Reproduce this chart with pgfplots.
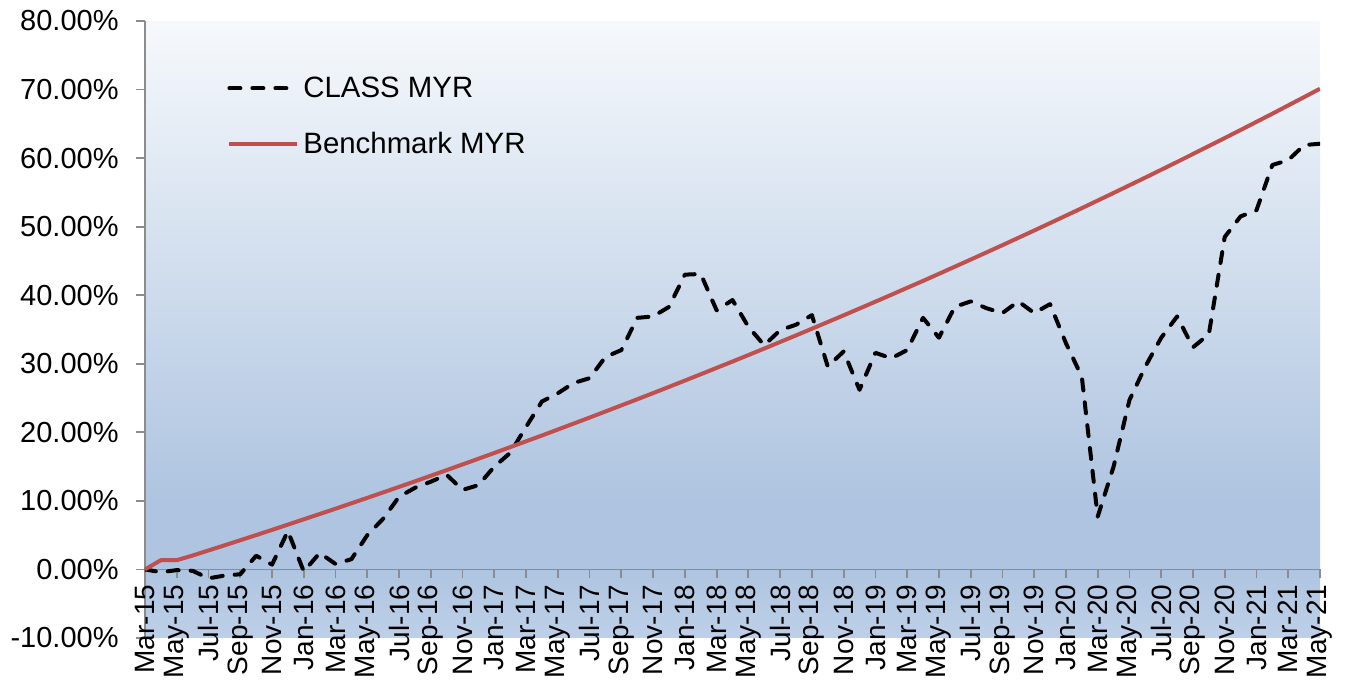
\documentclass[border=0pt]{standalone}
\usepackage{fontspec}
\setmainfont{Liberation Sans}
\usepackage{pgfplots}
\pgfplotsset{compat=1.18}
\definecolor{bench}{HTML}{C0504D}
\definecolor{axgray}{HTML}{8C8C8C}
\definecolor{bgtop}{HTML}{F6F9FC}
\definecolor{bgmid}{HTML}{CCDAEB}
\definecolor{bgdark}{HTML}{AEC4E0}
\definecolor{bgbot}{HTML}{BED0E8}
\pgfdeclareverticalshading{plotbg}{100bp}{color(0bp)=(bgbot); color(25bp)=(bgbot); color(30.6bp)=(bgdark); color(36bp)=(bgdark); color(75bp)=(bgtop); color(100bp)=(bgtop)}
\begin{document}
\begin{tikzpicture}
\path[use as bounding box] (0,0) rectangle (675.5pt,343pt);
\begin{axis}[
  at={(72.5pt,24pt)}, anchor=south west,
  scale only axis, width=587.5pt, height=308.5pt,
  xmin=0, xmax=74, ymin=-10, ymax=80,
  axis x line=middle, axis y line=left,
  hide obscured x ticks=false, hide obscured y ticks=false,
  axis line style={-, draw=axgray, line width=0.9pt},
  axis background/.style={shade, shading=plotbg},
  every tick/.style={draw=axgray, line width=0.9pt},
  major tick length=4.5pt,
  xtick align=outside, ytick align=outside,
  xtick={0,2,...,74},
  xticklabels={Mar-15,May-15,Jul-15,Sep-15,Nov-15,Jan-16,Mar-16,May-16,Jul-16,Sep-16,Nov-16,Jan-17,Mar-17,May-17,Jul-17,Sep-17,Nov-17,Jan-18,Mar-18,May-18,Jul-18,Sep-18,Nov-18,Jan-19,Mar-19,May-19,Jul-19,Sep-19,Nov-19,Jan-20,Mar-20,May-20,Jul-20,Sep-20,Nov-20,Jan-21,Mar-21,May-21},
  xticklabel style={rotate=90, anchor=east, font=\fontsize{14}{15}\selectfont, inner sep=3pt},
  ytick={-10,0,10,20,30,40,50,60,70,80},
  yticklabels={-10.00\%,0.00\%,10.00\%,20.00\%,30.00\%,40.00\%,50.00\%,60.00\%,70.00\%,80.00\%},
  yticklabel style={font=\fontsize{14.5}{16}\selectfont, inner sep=2pt, xshift=-6.5pt},
  /pgf/number format/assume math mode=true,
  legend style={at={(0.0698,0.917)}, anchor=north west, draw=none, fill=none, inner sep=0pt,
    row sep=12pt, font=\fontsize{14.7}{16}\selectfont},
  legend cell align=left,
  legend image code/.code={\draw[#1] (0pt,0pt) -- (34pt,0pt);},
]
\addplot[black, line width=2pt, dash pattern=on 5.5pt off 6pt, line cap=round, line join=round] coordinates {
(0,0) (1,-0.4) (2,-0.1) (3,-0.2) (4,-1.3) (5,-0.9) (6,-0.7) (7,2.0) (8,0.7) (9,5.6)
(10,-0.3) (11,2.4) (12,0.8) (13,1.5) (14,5.0) (15,7.4) (16,10.6) (17,11.9) (18,12.8) (19,13.8)
(20,11.6) (21,12.3) (22,15.0) (23,17.0) (24,20.8) (25,24.5) (26,25.7) (27,27.2) (28,27.9) (29,31.0)
(30,32.0) (31,36.7) (32,36.9) (33,38.3) (34,43.0) (35,43.1) (36,37.8) (37,39.3) (38,35.4) (39,32.7)
(40,34.9) (41,35.7) (42,37.1) (43,29.6) (44,31.8) (45,26.2) (46,31.6) (47,30.8) (48,32.0) (49,36.7)
(50,33.8) (51,38.3) (52,39.1) (53,38.1) (54,37.4) (55,39.1) (56,37.4) (57,38.7) (58,33.0) (59,28.1)
(60,7.7) (61,15.0) (62,24.7) (63,29.6) (64,33.8) (65,36.9) (66,32.4) (67,34.3) (68,48.5) (69,51.5)
(70,52.4) (71,59.0) (72,59.7) (73,61.9) (74,62.1)
};
\addlegendentry{CLASS MYR}
\addplot[bench, line width=2pt, line join=round] coordinates {
(0,0) (1,1.35) (2,1.35) (3,2.03) (4,2.77) (5,3.51) (6,4.26) (7,5.01) (8,5.77) (9,6.54)
(10,7.31) (11,8.08) (12,8.86) (13,9.65) (14,10.44) (15,11.24) (16,12.04) (17,12.85) (18,13.67) (19,14.49)
(20,15.32) (21,16.15) (22,16.99) (23,17.84) (24,18.69) (25,19.54) (26,20.41) (27,21.28) (28,22.15) (29,23.04)
(30,23.93) (31,24.82) (32,25.72) (33,26.63) (34,27.55) (35,28.47) (36,29.40) (37,30.33) (38,31.27) (39,32.22)
(40,33.18) (41,34.14) (42,35.11) (43,36.09) (44,37.07) (45,38.06) (46,39.06) (47,40.06) (48,41.08) (49,42.09)
(50,43.12) (51,44.16) (52,45.20) (53,46.25) (54,47.30) (55,48.37) (56,49.44) (57,50.52) (58,51.61) (59,52.70)
(60,53.81) (61,54.92) (62,56.04) (63,57.16) (64,58.30) (65,59.44) (66,60.60) (67,61.76) (68,62.93) (69,64.10)
(70,65.29) (71,66.48) (72,67.69) (73,68.90) (74,70.12)
};
\addlegendentry{Benchmark MYR}
\end{axis}
\end{tikzpicture}
\end{document}
